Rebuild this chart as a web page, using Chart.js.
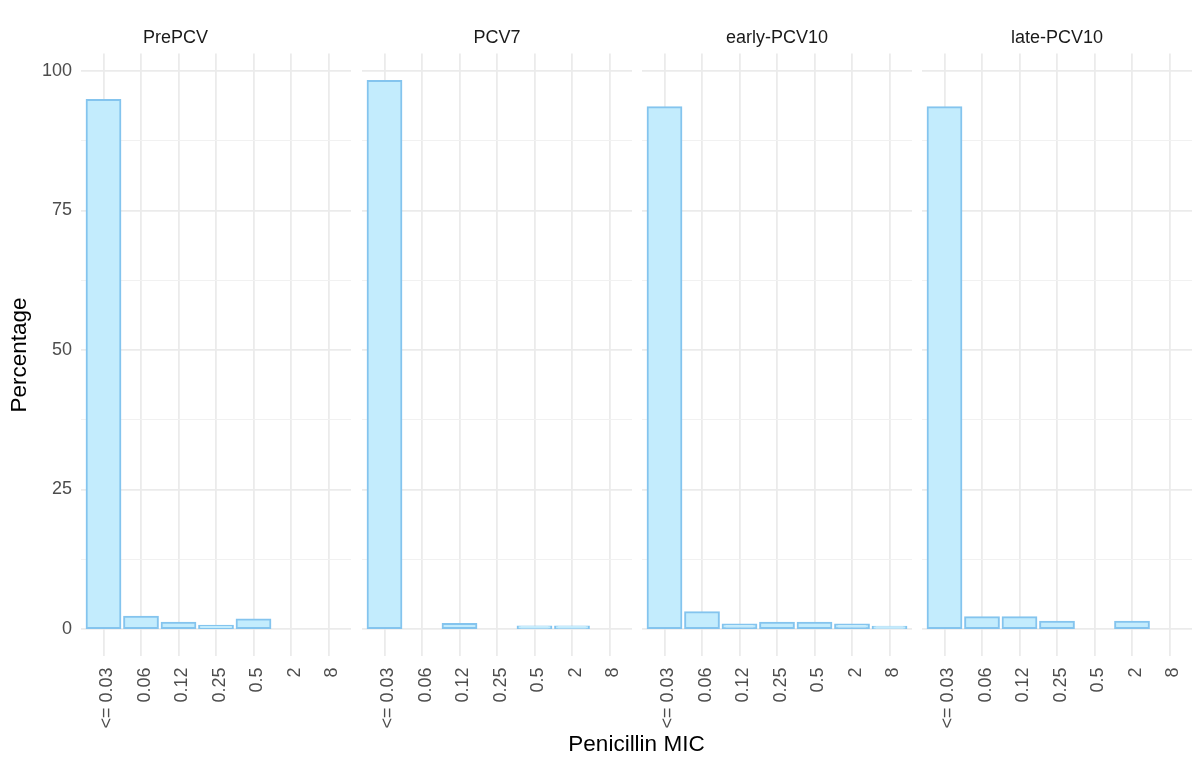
<!DOCTYPE html>
<html>
<head>
<meta charset="utf-8">
<script src="https://cdn.jsdelivr.net/npm/chart.js@4/dist/chart.umd.min.js"></script>
<style>
  body { margin: 0; background: #fff; font-family: "Liberation Sans", Arial, sans-serif; }
  #wrap { position: relative; width: 1198px; height: 762px; overflow: hidden; }
  .panel { position: absolute; top: 0; height: 762px; }
  #xtitle { position: absolute; left: 81px; width: 1111px; top: 730px; text-align: center;
            font-size: 22.5px; color: #000; line-height: 28px; }
</style>
</head>
<body>
<div id="wrap">
  <div class="panel" style="left:0;width:351px"><canvas id="p0"></canvas></div>
  <div class="panel" style="left:362px;width:270px"><canvas id="p1"></canvas></div>
  <div class="panel" style="left:642px;width:270px"><canvas id="p2"></canvas></div>
  <div class="panel" style="left:922px;width:270px"><canvas id="p3"></canvas></div>
  <div id="xtitle">Penicillin MIC</div>
</div>
<script>
// data
var mic = ['<= 0.03', '0.06', '0.12', '0.25', '0.5', '2', '8'];
var periods = ['PrePCV', 'PCV7', 'early-PCV10', 'late-PCV10'];
var prePCV     = [94.8, 2.2, 1.1, 0.6, 1.7, null, null];
var pcv7       = [98.2, null, 0.9, null, 0.45, 0.45, null];
var earlyPCV10 = [93.5, 3.0, 0.8, 1.1, 1.1, 0.8, 0.4];
var latePCV10  = [93.5, 2.1, 2.1, 1.3, null, 1.3, null];
var yTicks = [0, 12.5, 25, 37.5, 50, 62.5, 75, 87.5, 100];

var series = [prePCV, pcv7, earlyPCV10, latePCV10];
var FONT = '"Liberation Sans", Arial, sans-serif';

// ggplot-ish expansion of the y range
var yMax = Math.max.apply(null, series.map(function (s) { return Math.max.apply(null, s.filter(function (v) { return v !== null; })); }));
var yMin = -0.05 * yMax;
yMax = yMax * 1.05;

function makePanel(k) {
    var first = k === 0;
    var ctx = document.getElementById('p' + k).getContext('2d');
    return new Chart(ctx, {
        type: 'bar',
        data: {
            datasets: [{
                data: series[k].map(function (v, i) { return {x: i, y: v}; }),
                backgroundColor: '#c3ecfd',
                borderColor: '#84c4ee',
                borderWidth: 2,
                borderSkipped: false,
                inflateAmount: 1, // outline straddles the bar edge
                barPercentage: 0.9,
                categoryPercentage: 1.0
            }]
        },
        options: {
            responsive: true,
            maintainAspectRatio: false,
            animation: false,
            layout: { padding: 0 },
            plugins: {
                legend: { display: false },
                tooltip: { enabled: false },
                title: {
                    display: true,
                    text: periods[k],
                    color: '#1a1a1a',
                    font: { family: FONT, size: 18, weight: 'normal', lineHeight: 1.2 },
                    padding: { top: 27, bottom: 5 }
                }
            },
            scales: {
                x: {
                    type: 'linear',
                    offset: false,
                    min: -0.6,
                    max: mic.length - 0.4,
                    afterBuildTicks: function (s) {
                        s.ticks = mic.map(function (m, i) { return {value: i}; });
                    },
                    afterFit: function (s) {
                        s.height = 105.6;
                        // no extra room for the rotated end labels
                        s.paddingLeft = 0;
                        s.paddingRight = 0;
                    },
                    border: { display: false },
                    grid: { color: '#ebebeb', lineWidth: 1.8, drawTicks: false, offset: false },
                    ticks: {
                        autoSkip: false,
                        minRotation: 90,
                        maxRotation: 90,
                        padding: 11,
                        labelOffset: 4,
                        color: '#4d4d4d',
                        font: { family: FONT, size: 18 },
                        callback: function (v) { return mic[v]; }
                    }
                },
                y: {
                    min: yMin,
                    max: yMax,
                    afterBuildTicks: function (s) {
                        s.ticks = yTicks.map(function (v) { return {value: v}; });
                    },
                    afterFit: function (s) { s.width = first ? 81 : 0; },
                    border: { display: false },
                    grid: {
                        drawTicks: false,
                        color: function (c) { return c.tick && c.tick.value % 25 === 0 ? '#ebebeb' : '#f1f1f1'; },
                        lineWidth: function (c) { return c.tick && c.tick.value % 25 === 0 ? 1.8 : 1; }
                    },
                    ticks: {
                        display: first,
                        padding: 9,
                        color: '#4d4d4d',
                        font: { family: FONT, size: 18 },
                        callback: function (v) { return v % 25 === 0 ? String(v) : ''; }
                    },
                    title: {
                        display: first,
                        text: 'Percentage',
                        color: '#000',
                        font: { family: FONT, size: 22.5, lineHeight: 1.2 },
                        padding: { top: 6.5, bottom: 0 }
                    }
                }
            }
        }
    });
}

var charts = periods.map(function (p, k) { return makePanel(k); });
</script>
</body>
</html>
